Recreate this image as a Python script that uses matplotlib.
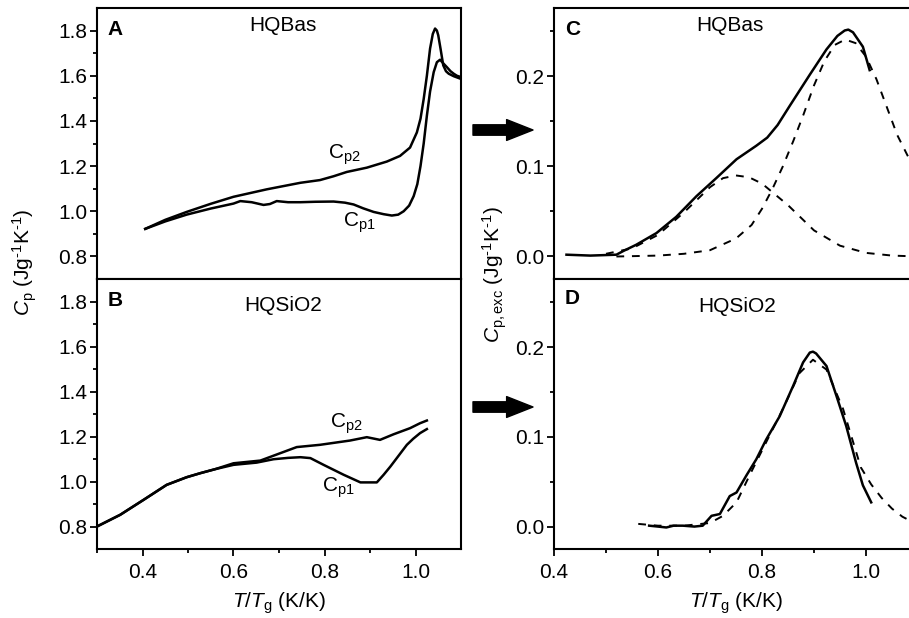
import matplotlib
matplotlib.use("Agg")
import matplotlib.pyplot as plt

plt.rcParams['font.family'] = ['Liberation Sans', 'DejaVu Sans']
plt.rcParams['mathtext.fontset'] = 'custom'
plt.rcParams['mathtext.rm'] = 'Liberation Sans'
plt.rcParams['mathtext.it'] = 'Liberation Sans:italic'

# --- panel A: HQBas, Cp1 / Cp2 ---
a_x1 = [0.406, 0.45, 0.497, 0.55, 0.6, 0.615, 0.64, 0.666, 0.68, 0.695, 0.72, 0.747, 0.78, 0.82,
        0.845, 0.864, 0.885, 0.908, 0.93, 0.948, 0.962, 0.974, 0.986, 0.996, 1.004, 1.011, 1.018,
        1.025, 1.032, 1.04, 1.047, 1.054, 1.061, 1.069, 1.077, 1.084, 1.091, 1.1]
a_y1 = [0.922, 0.955, 0.985, 1.012, 1.034, 1.045, 1.04, 1.028, 1.032, 1.045, 1.04, 1.04, 1.042, 1.043,
        1.038, 1.03, 1.013, 0.997, 0.987, 0.981, 0.985, 1.0, 1.025, 1.067, 1.12, 1.2, 1.3,
        1.423, 1.53, 1.616, 1.66, 1.671, 1.655, 1.638, 1.62, 1.609, 1.6, 1.594]
a_x2 = [0.406, 0.45, 0.497, 0.55, 0.6, 0.673, 0.747, 0.79, 0.82, 0.849, 0.893, 0.937, 0.966, 0.988,
        1.003, 1.011, 1.018, 1.025, 1.032, 1.038, 1.043, 1.047, 1.05, 1.055, 1.061, 1.067, 1.073,
        1.084, 1.1]
a_y2 = [0.922, 0.962, 0.997, 1.033, 1.064, 1.097, 1.126, 1.138, 1.155, 1.174, 1.193, 1.22, 1.245, 1.282,
        1.349, 1.41, 1.497, 1.6, 1.72, 1.785, 1.809, 1.8, 1.779, 1.72, 1.646, 1.62, 1.609,
        1.598, 1.586]

# --- panel B: HQSiO2, Cp1 / Cp2 ---
b_x1 = [0.3, 0.351, 0.402, 0.453, 0.497, 0.527, 0.56, 0.6, 0.651, 0.688, 0.72, 0.747, 0.769, 0.798,
        0.842, 0.879, 0.9, 0.915, 0.93, 0.945, 0.963, 0.981, 0.995, 1.01, 1.025]
b_y1 = [0.8, 0.852, 0.918, 0.985, 1.019, 1.037, 1.055, 1.074, 1.084, 1.099, 1.105, 1.108, 1.104, 1.074,
        1.03, 0.996, 0.996, 0.996, 1.03, 1.067, 1.115, 1.163, 1.19, 1.215, 1.233]
b_x2 = [0.3, 0.351, 0.402, 0.453, 0.497, 0.527, 0.56, 0.6, 0.659, 0.703, 0.739, 0.79, 0.856, 0.893,
        0.922, 0.952, 0.988, 1.01, 1.025]
b_y2 = [0.8, 0.852, 0.918, 0.985, 1.019, 1.037, 1.055, 1.081, 1.093, 1.126, 1.153, 1.163, 1.182, 1.197,
        1.185, 1.21, 1.237, 1.259, 1.271]

# --- panel C: HQBas excess Cp with two-peak fit ---
c_x = [0.424, 0.47, 0.52, 0.533, 0.558, 0.597, 0.635, 0.674, 0.712, 0.751, 0.789, 0.81, 0.83, 0.853,
       0.892, 0.924, 0.945, 0.959, 0.966, 0.975, 0.994, 1.007]
c_y = [0.002, 0.001, 0.002, 0.006, 0.013, 0.026, 0.044, 0.067, 0.087, 0.108, 0.123, 0.132, 0.146, 0.167,
       0.202, 0.23, 0.245, 0.251, 0.252, 0.249, 0.233, 0.207]
c_fit1_x = [0.5, 0.55, 0.6, 0.65, 0.7, 0.725, 0.75, 0.775, 0.8, 0.85, 0.9, 0.95, 1.0, 1.05, 1.1]
c_fit1_y = [0.003, 0.009, 0.024, 0.049, 0.077, 0.087, 0.09, 0.088, 0.081, 0.057, 0.029, 0.012, 0.004, 0.001, 0.0]
c_fit2_x = [0.52, 0.6, 0.65, 0.7, 0.75, 0.78, 0.8, 0.82, 0.84, 0.86, 0.88, 0.9, 0.92, 0.94, 0.96,
            0.98, 1.0, 1.02, 1.04, 1.06, 1.08, 1.1]
c_fit2_y = [0.0, 0.001, 0.003, 0.007, 0.02, 0.035, 0.053, 0.075, 0.1, 0.128, 0.158, 0.19, 0.217,
            0.235, 0.241, 0.237, 0.222, 0.197, 0.166, 0.135, 0.112, 0.09]

# --- panel D: HQSiO2 excess Cp with single-peak fit ---
d_x = [0.583, 0.6, 0.616, 0.63, 0.648, 0.67, 0.686, 0.703, 0.719, 0.738, 0.751, 0.77, 0.789, 0.808,
       0.834, 0.86, 0.879, 0.892, 0.898, 0.904, 0.924, 0.943, 0.962, 0.981, 0.994, 1.01]
d_y = [0.001, 0.0, -0.001, 0.001, 0.001, 0.0, 0.001, 0.012, 0.014, 0.034, 0.038, 0.057, 0.075, 0.097,
       0.123, 0.157, 0.183, 0.194, 0.195, 0.193, 0.179, 0.146, 0.112, 0.071, 0.046, 0.027]
d_fit_x = [0.562, 0.6, 0.65, 0.7, 0.725, 0.751, 0.776, 0.808, 0.84, 0.872, 0.898, 0.924, 0.956,
           0.99, 1.01, 1.03, 1.05, 1.07, 1.09, 1.1]
d_fit_y = [0.003, 0.001, 0.001, 0.004, 0.012, 0.027, 0.057, 0.094, 0.131, 0.171, 0.186, 0.175, 0.131,
           0.066, 0.047, 0.032, 0.02, 0.011, 0.005, 0.003]

fig = plt.figure(figsize=(9.09, 6.18), dpi=100)
W, H = 909, 618

def px(l, t, r, b):
    return [l / W, 1 - b / H, (r - l) / W, (b - t) / H]

axA = fig.add_axes(px(97, 8, 461, 279))
axB = fig.add_axes(px(97, 279, 461, 549))
axC = fig.add_axes(px(554, 8, 918, 279))
axD = fig.add_axes(px(554, 279, 918, 549))

FS = 15
for ax in (axA, axB, axC, axD):
    for s in ax.spines.values():
        s.set_linewidth(1.5)
    ax.tick_params(which='both', direction='out', width=1.3, labelsize=FS, pad=2)
    ax.tick_params(which='major', length=5)
    ax.tick_params(which='minor', length=3)

for ax in (axA, axB):
    ax.set_xlim(0.3, 1.1)
    ax.set_ylim(0.7, 1.9)
    ax.set_xticks([0.4, 0.6, 0.8, 1.0])
    ax.set_xticks([0.3, 0.5, 0.7, 0.9], minor=True)
    ax.set_yticks([0.8, 1.0, 1.2, 1.4, 1.6, 1.8])
    ax.set_yticks([0.9, 1.1, 1.3, 1.5, 1.7], minor=True)
    ax.yaxis.set_major_formatter(plt.FormatStrFormatter('%.1f'))
for ax in (axC, axD):
    ax.set_xlim(0.4, 1.1)
    ax.set_ylim(-0.025, 0.276)
    ax.set_xticks([0.4, 0.6, 0.8, 1.0])
    ax.set_xticks([0.5, 0.7, 0.9], minor=True)
    ax.set_yticks([0.0, 0.1, 0.2])
    ax.set_yticks([0.05, 0.15, 0.25], minor=True)
    ax.yaxis.set_major_formatter(plt.FormatStrFormatter('%.1f'))
for ax in (axB, axD):
    ax.xaxis.set_major_formatter(plt.FormatStrFormatter('%.1f'))
    ax.tick_params(axis='x', pad=5)
for ax in (axA, axC):
    ax.tick_params(labelbottom=False)

lw = 1.8
axA.plot(a_x1, a_y1, color='k', lw=lw)
axA.plot(a_x2, a_y2, color='k', lw=lw)
axB.plot(b_x1, b_y1, color='k', lw=lw)
axB.plot(b_x2, b_y2, color='k', lw=lw)

axC.plot(c_fit1_x, c_fit1_y, color='k', lw=1.4, ls=(0, (4, 4)))
axC.plot(c_fit2_x, c_fit2_y, color='k', lw=1.4, ls=(0, (4, 4)))
axC.plot(c_x, c_y, color='k', lw=lw)
axD.plot(d_fit_x, d_fit_y, color='k', lw=1.4, ls=(0, (4, 4)))
axD.plot(d_x, d_y, color='k', lw=lw)

# curve labels
axA.text(0.808, 1.231, '$\\mathrm{C}_{\\mathrm{p2}}$', fontsize=FS)
axA.text(0.841, 0.933, '$\\mathrm{C}_{\\mathrm{p1}}$', fontsize=FS)
axB.text(0.812, 1.239, '$\\mathrm{C}_{\\mathrm{p2}}$', fontsize=FS)
axB.text(0.795, 0.954, '$\\mathrm{C}_{\\mathrm{p1}}$', fontsize=FS)

# panel letters and sample names (axes fractions)
letters = ['A', 'B', 'C', 'D']
names = ['HQBas', 'HQSiO2', 'HQBas', 'HQSiO2']
letter_y = [0.919, 0.922, 0.919, 0.926]
name_x = [0.512, 0.512, 0.484, 0.504]
name_y = [0.935, 0.902, 0.937, 0.898]
for i, ax in enumerate((axA, axB, axC, axD)):
    ax.text(0.03, letter_y[i], letters[i], transform=ax.transAxes, fontsize=FS,
            fontweight='bold', va='center', ha='left')
    ax.text(name_x[i], name_y[i], names[i], transform=ax.transAxes,
            fontsize=FS, va='center', ha='center')

xl = '$T$/$T_{\\mathrm{g}}$ (K/K)'
axB.set_xlabel(xl, fontsize=FS, labelpad=6)
axD.set_xlabel(xl, fontsize=FS, labelpad=6)

unit = '(Jg$^{\\text{-1}}$K$^{\\text{-1}}$)'
fig.text(25 / W, 1 - 262 / H, '$C_{\\mathrm{p}}$ ' + unit, rotation=90,
         ha='center', va='center', fontsize=FS)
fig.text(495 / W, 1 - 275 / H, '$C_{\\mathrm{p,exc}}$ ' + unit, rotation=90,
         ha='center', va='center', fontsize=FS)

# arrows between columns
for yy in (130, 407):
    fig.add_artist(matplotlib.patches.FancyArrowPatch(
        (473, H - yy), (533, H - yy), transform=None,
        arrowstyle='simple,head_length=1.9,head_width=1.5,tail_width=0.75',
        mutation_scale=10, color='k', shrinkA=0, shrinkB=0))

fig.savefig('out.png', dpi=100)
